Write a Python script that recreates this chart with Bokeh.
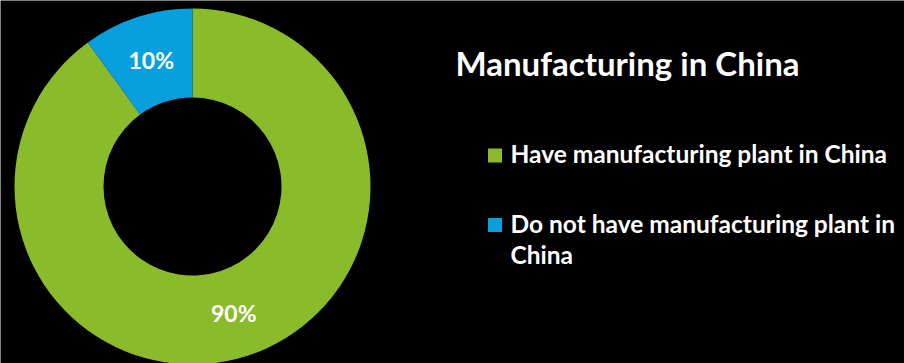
import math
from bokeh.plotting import figure
from bokeh.models import Range1d, ColumnDataSource
from bokeh.core.properties import value
from bokeh.embed import file_html
from bokeh.resources import INLINE

# ---- data ----
categories = ["Have manufacturing plant in China", "Do not have manufacturing plant in China"]
legend_lines = [["Have manufacturing plant in China"], ["Do not have manufacturing plant in", "China"]]
shares = [90, 10]
colors = ["#8abb2a", "#079fdd"]
title = "Manufacturing in China"

W, H = 904, 363
FONT = "Lato"

p = figure(width=W, height=H, output_backend="svg", toolbar_location=None,
           x_range=Range1d(0, W), y_range=Range1d(0, H), min_border=0)
p.background_fill_color = "black"
p.border_fill_color = "black"
p.outline_line_color = None
p.axis.visible = False
p.grid.visible = False

# donut geometry (pixels)
cx, cy = 192, H - 186
r_in, r_out = 89, 178

total = float(sum(shares))
starts, ends, lx, ly, labels = [], [], [], [], []
ang = math.pi / 2  # start at top, go clockwise
for s in shares:
    sweep = 2 * math.pi * s / total
    a_end = ang
    a_start = ang - sweep
    starts.append(a_start)
    ends.append(a_end)
    mid = (a_start + a_end) / 2
    rm = (r_in + r_out) / 2
    lx.append(cx + rm * math.cos(mid))
    ly.append(cy + rm * math.sin(mid))
    labels.append(f"{s}%")
    ang = a_start

src = ColumnDataSource(dict(start=starts, end=ends, color=colors, lx=lx, ly=ly, label=labels))
p.annular_wedge(x=cx, y=cy, inner_radius=r_in, outer_radius=r_out,
                start_angle="start", end_angle="end", fill_color="color",
                line_color=None, source=src)
p.text(x="lx", y="ly", text="label", source=src, text_color="white",
       text_font=value(FONT), text_font_style="bold", text_font_size="23px",
       text_align="center", text_baseline="middle")

# title
p.text(x=[455], y=[H - 62], text=[title], text_color="white",
       text_font=value(FONT), text_font_style="bold", text_font_size="33px",
       text_align="left", text_baseline="middle")

# legend
sq_x, txt_x = 494.5, 510
center_ys = [155, 224.5]
line_h = 31.5
for i, lines in enumerate(legend_lines):
    cyl = center_ys[i]
    p.rect(x=[sq_x], y=[H - cyl], width=14, height=14, fill_color=colors[i], line_color=None)
    for j, ln in enumerate(lines):
        p.text(x=[txt_x], y=[H - (cyl - 2 + j * line_h)], text=[ln], text_color="white",
               text_font=value(FONT), text_font_style="bold", text_font_size="24.5px",
               text_align="left", text_baseline="middle")

open("out.html", "w").write(file_html(p, INLINE))
